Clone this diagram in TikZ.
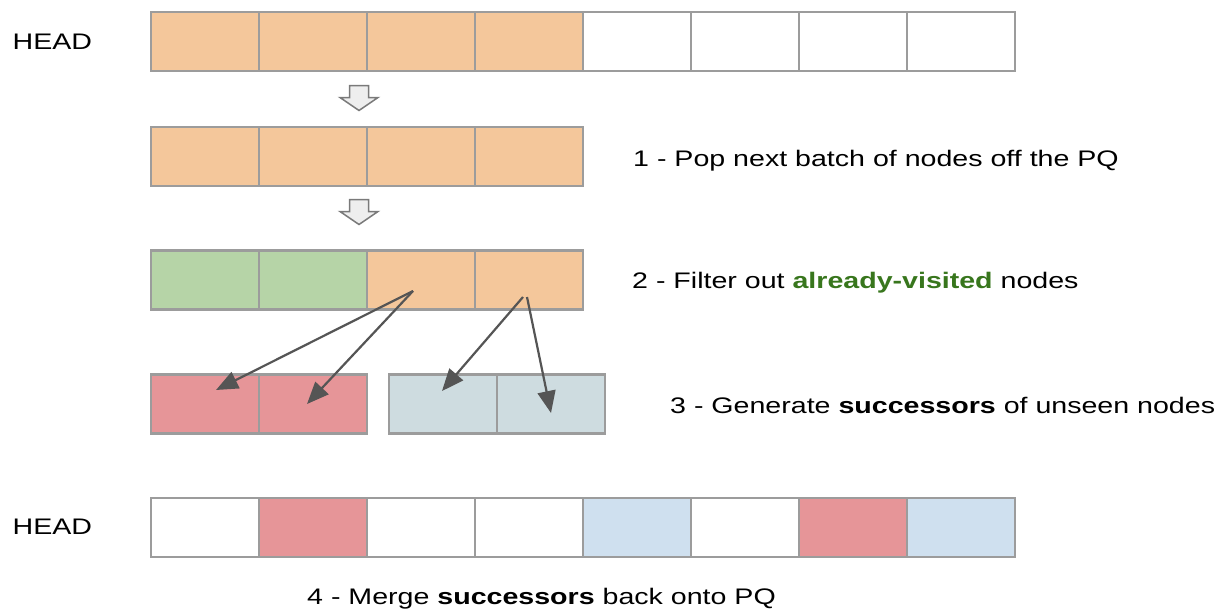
\documentclass[tikz,border=0pt]{standalone}
\usepackage{fontspec}
\setmainfont{Liberation Sans}
\usetikzlibrary{arrows.meta,calc}

\definecolor{cellborder}{HTML}{9C9C9C}
\definecolor{pqorange}{HTML}{F4C79B}
\definecolor{visitgreen}{HTML}{B6D4A7}
\definecolor{succred}{HTML}{E69598}
\definecolor{succgrey}{HTML}{CEDCE0}
\definecolor{succblue}{HTML}{CFE0EF}
\definecolor{arrowgray}{HTML}{555555}
\definecolor{blockfill}{HTML}{EEEEEE}
\definecolor{blockedge}{HTML}{7A7A7A}
\definecolor{textgreen}{HTML}{38761D}

% wide sans text, as set in the queue captions
\newcommand{\widetext}[1]{\scalebox{1.27}[1]{#1}}

\begin{document}
\begin{tikzpicture}[x=1pt,y=-1pt,
  cell/.style={draw=cellborder, line width=2.2pt, minimum width=108pt,
    minimum height=59pt, inner sep=0pt, outer sep=0pt},
  steptext/.style={anchor=base west, inner sep=0pt,
    font=\fontsize{22.5}{27}\selectfont},
  succ/.style={draw=arrowgray, line width=2.2pt,
    -{Triangle[length=22pt,width=18pt]}},
  blockarrow/.style={draw=blockedge, fill=blockfill, line width=1.5pt,
    line join=miter},
  pics/downarrow/.style={code={
    \draw[blockarrow] (-9.5,0) -- (9.5,0) -- (9.5,12) -- (19,12)
      -- (0,25) -- (-19,12) -- (-9.5,12) -- cycle;}}
]
\useasboundingbox (0,0) rectangle (1223,608);

% priority queue before popping
\foreach \c [count=\i] in {pqorange,pqorange,pqorange,pqorange,white,white,white,white}
  \node[cell, fill=\c] (a\i) at ({205+108*(\i-1)}, 41.5) {};
\node[steptext] (head1) at (12.5,49) {\widetext{HEAD}};

\pic (down1) at (359,85.5) {downarrow};

% popped batch
\foreach \c [count=\i] in {pqorange,pqorange,pqorange,pqorange}
  \node[cell, fill=\c] (b\i) at ({205+108*(\i-1)}, 156.5) {};
\node[steptext] (step1) at (633,166) {\widetext{1 - Pop next batch of nodes off the PQ}};

\pic (down2) at (359,199.5) {downarrow};

% filtered batch
\foreach \c [count=\i] in {visitgreen,visitgreen,pqorange,pqorange}
  \node[cell, fill=\c] (c\i) at ({205+108*(\i-1)}, 280) {};
\node[steptext] (step2) at (632,288.5) {\widetext{2 - Filter out \textbf{\textcolor{textgreen}{already-visited}} nodes}};

% successors
\node[cell, fill=succred]  (d1) at (205,404) {};
\node[cell, fill=succred]  (d2) at (313,404) {};
\node[cell, fill=succgrey] (d3) at (443,404) {};
\node[cell, fill=succgrey] (d4) at (551,404) {};
\node[steptext] (step3) at (670,413) {\widetext{3 - Generate \textbf{successors} of unseen nodes}};

\coordinate (src1) at (413,291);
\coordinate (src2) at (523,297);
\coordinate (src3) at (527,297);
\coordinate (tgt1) at (216,390);
\coordinate (tgt2) at (307,404);
\coordinate (tgt3) at (442,391);
\coordinate (tgt4) at (551,413);
\draw[succ] (src1) -- (tgt1);
\draw[succ] (src1) -- (tgt2);
\draw[succ] (src2) -- (tgt3);
\draw[succ] (src3) -- (tgt4);

% merged queue
\foreach \c [count=\i] in {white,succred,white,white,succblue,white,succred,succblue}
  \node[cell, fill=\c] (e\i) at ({205+108*(\i-1)}, 527.5) {};
\node[steptext] (head2) at (12.5,534) {\widetext{HEAD}};
\node[steptext] (step4) at (307,604) {\widetext{4 - Merge \textbf{successors} back onto PQ}};
\end{tikzpicture}
\end{document}
